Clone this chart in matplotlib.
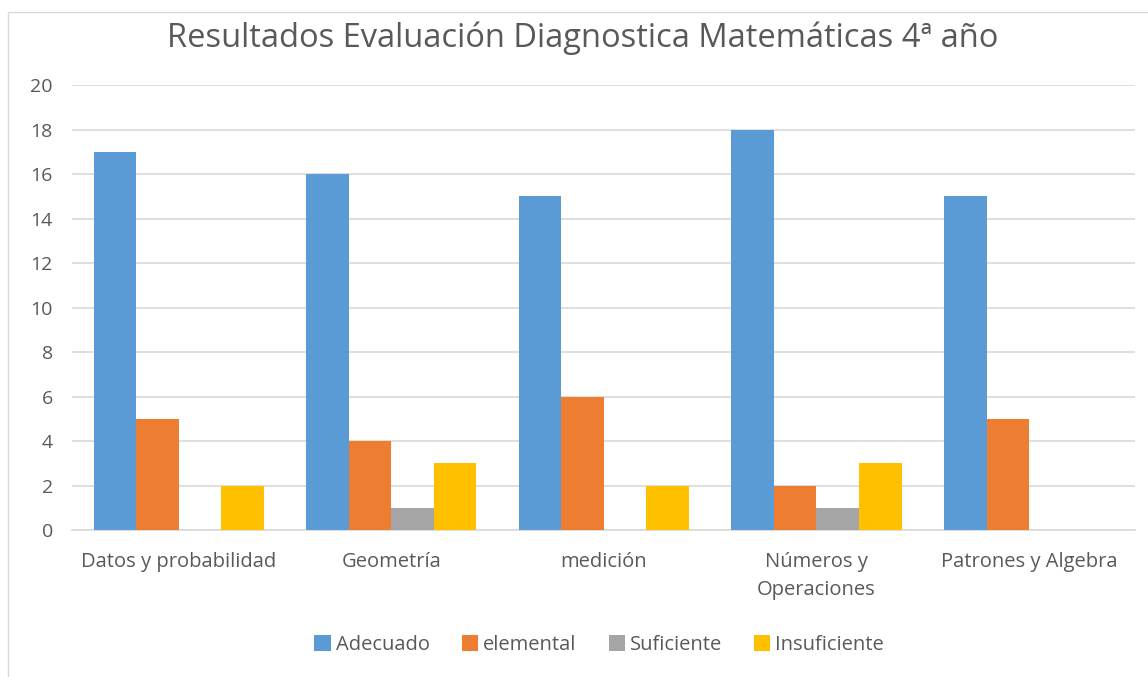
import numpy as np
import matplotlib.pyplot as plt
from matplotlib.patches import Rectangle

categories = ["Datos y probabilidad", "Geometría", "medición",
              "Números y\nOperaciones", "Patrones y Algebra"]
series_names = ["Adecuado", "elemental", "Suficiente", "Insuficiente"]
adecuado = [17, 16, 15, 18, 15]
elemental = [5, 4, 6, 2, 5]
suficiente = [0, 1, 0, 1, 0]
insuficiente = [2, 3, 2, 3, 0]
y_ticks = [0, 2, 4, 6, 8, 10, 12, 14, 16, 18, 20]

colors = ["#5B9BD5", "#ED7D31", "#A5A5A5", "#FFC000"]
text_color = "#595959"

plt.rcParams["font.family"] = ["Open Sans", "DejaVu Sans"]

fig = plt.figure(figsize=(11.48, 6.77), dpi=100)
ax = fig.add_axes([0.063, 0.217, 0.926, 0.657])

# light frame around the chart area
fig.patches.append(Rectangle((8 / 1148, -0.01), 1.02, 1 - 12 / 677 + 0.01,
                             transform=fig.transFigure, fill=False,
                             edgecolor="#D9D9D9", linewidth=1.0))

x = np.arange(len(categories))
width = 0.2
all_values = [adecuado, elemental, suficiente, insuficiente]
for i, (name, vals) in enumerate(zip(series_names, all_values)):
    ax.bar(x + (i - 1.5) * width, vals, width, color=colors[i], label=name,
           zorder=3)

ax.set_xlim(-0.5, len(categories) - 0.5)
ax.set_ylim(0, 20)
ax.set_yticks(y_ticks)
ax.yaxis.grid(True, color="#D9D9D9", linewidth=1.2, zorder=0)
ax.set_xticks(x)
ax.set_xticklabels(categories, fontsize=14.5, color=text_color, linespacing=1.5)
ax.tick_params(axis="y", labelsize=14, labelcolor=text_color, length=0, pad=14)
ax.tick_params(axis="x", length=0, pad=16)
for s in ["top", "right", "left"]:
    ax.spines[s].set_visible(False)
ax.spines["bottom"].set_color("#D9D9D9")
ax.spines["bottom"].set_linewidth(1.2)

fig.text(0.508, 0.943, "Resultados Evaluación Diagnostica Matemáticas 4ª año",
         ha="center", va="center", fontsize=23.5, color=text_color)

fig.legend(loc="center", bbox_to_anchor=(0.522, 0.047), ncol=4, frameon=False,
           fontsize=14.5, handlelength=0.8, handleheight=0.8, handletextpad=0.25,
           columnspacing=1.6, labelcolor=text_color)

fig.savefig("out.png", dpi=100)
